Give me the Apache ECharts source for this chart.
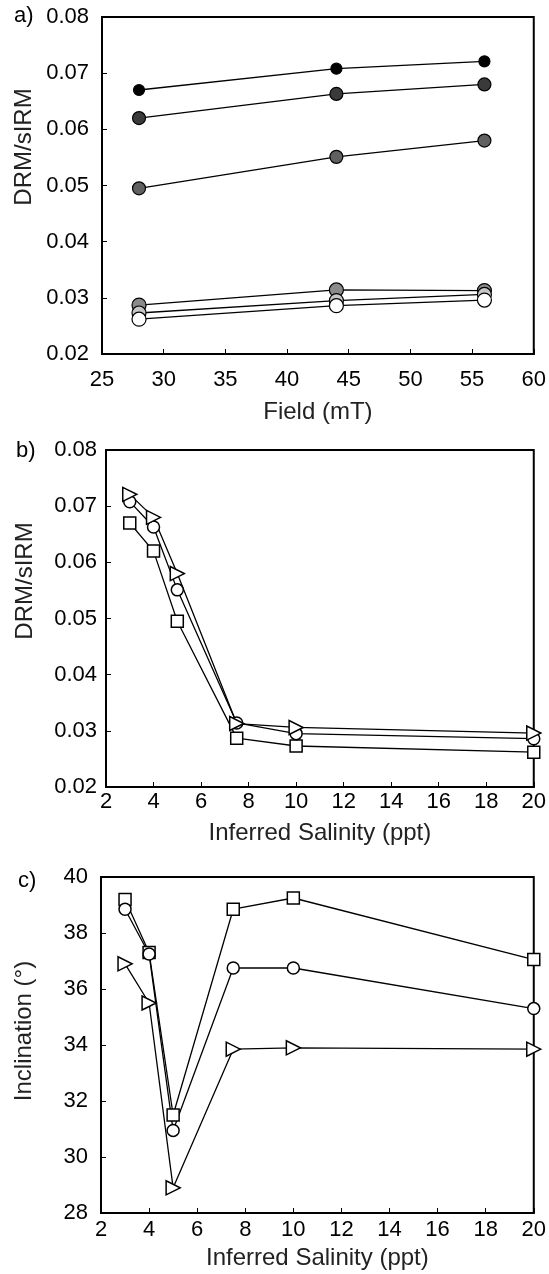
<!DOCTYPE html>
<html>
<head>
<meta charset="utf-8">
<script src="https://cdn.jsdelivr.net/npm/echarts@6/dist/echarts.min.js"></script>
<style>
html,body{margin:0;padding:0;background:#fff;}
#chart{width:549px;height:1274px;}
</style>
</head>
<body>
<div id="chart"></div>
<script>
// ---- data ----
const fields = [28, 44, 56];                 // mT (panel a x)
const salinity = [3, 4, 5, 7.5, 10, 20];     // ppt (panels b,c x)
// DRM/sIRM by salinity for each field
const drm28 = [0.0670, 0.0620, 0.0495, 0.0287, 0.0273, 0.0262];  // squares
const drm44 = [0.0708, 0.0663, 0.0551, 0.0314, 0.0295, 0.0286];  // circles
const drm56 = [0.0721, 0.0680, 0.0580, 0.0313, 0.0306, 0.0296];  // triangles
// Inclination by salinity
const inc28 = [39.2, 37.3, 31.5, 38.85, 39.25, 37.05];
const inc44 = [38.85, 37.25, 30.95, 36.75, 36.75, 35.3];
const inc56 = [36.9, 35.5, 28.9, 33.85, 33.9, 33.85];
// tick labels
const yTicksA = [0.02, 0.03, 0.04, 0.05, 0.06, 0.07, 0.08];
const xTicksA = [25, 30, 35, 40, 45, 50, 55, 60];
const xTicksS = [2, 4, 6, 8, 10, 12, 14, 16, 18, 20];
const yTicksC = [28, 30, 32, 34, 36, 38, 40];
const salColors = ['#000000', '#3a3a3a', '#606060', '#8a8a8a', '#c6c6c6', '#ffffff'];
const salSizes = [11, 13, 13, 14, 14, 14];

const FONT = 'Liberation Sans, Arial, sans-serif';
const grids = [
  {left: 102, top: 17, width: 432, height: 337},
  {left: 106, top: 450, width: 433, height: 337},
  {left: 101, top: 877, width: 433, height: 336}
];

function xAxis(gi, ticks, name, gap, margin) {
  return {
    type: 'value', gridIndex: gi, min: ticks[0], max: ticks[ticks.length - 1],
    interval: ticks[1] - ticks[0],
    name: name, nameLocation: 'middle', nameGap: gap,
    nameTextStyle: {fontSize: 24, color: '#222', fontFamily: FONT},
    axisLine: {show: true, lineStyle: {color: '#000', width: 2}},
    axisTick: {show: true, inside: true, length: 5, lineStyle: {color: '#000', width: 1}},
    axisLabel: {fontSize: 22, color: '#000', fontFamily: FONT, margin: margin},
    splitLine: {show: false}
  };
}
function yAxis(gi, ticks, dec, margin) {
  return {
    type: 'value', gridIndex: gi, min: ticks[0], max: ticks[ticks.length - 1],
    interval: +(ticks[1] - ticks[0]).toFixed(4),
    axisLine: {show: true, lineStyle: {color: '#000', width: 2}},
    axisTick: {show: true, inside: true, length: 5, lineStyle: {color: '#000', width: 1}},
    axisLabel: {fontSize: 22, color: '#000', fontFamily: FONT, margin: margin,
      formatter: v => Number(v).toFixed(dec)},
    splitLine: {show: false}
  };
}

const series = [];
// panel a: one series per salinity, x = field
salinity.forEach((s, i) => {
  series.push({
    type: 'line', xAxisIndex: 0, yAxisIndex: 0,
    data: fields.map((f, j) => [f, [drm28, drm44, drm56][j][i]]),
    symbol: 'circle', symbolSize: salSizes[i],
    lineStyle: {color: '#000', width: 1.3},
    itemStyle: {color: salColors[i], borderColor: '#000', borderWidth: 1.2},
    z: 2 + i, animation: false
  });
});
function salSeries(ax, vals, sym) {
  const s = {
    type: 'line', xAxisIndex: ax, yAxisIndex: ax,
    data: salinity.map((x, i) => [x, vals[i]]),
    symbol: sym, symbolSize: sym === 'triangle' ? 14 : 12,
    lineStyle: {color: '#000', width: 1.3},
    itemStyle: {color: '#fff', borderColor: '#000', borderWidth: 1.5},
    animation: false
  };
  if (sym === 'triangle') s.symbolRotate = -90;
  return s;
}
series.push(salSeries(1, drm28, 'rect'));
series.push(salSeries(1, drm44, 'circle'));
series.push(salSeries(1, drm56, 'triangle'));
series.push(salSeries(2, inc28, 'rect'));
series.push(salSeries(2, inc44, 'circle'));
series.push(salSeries(2, inc56, 'triangle'));

const chart = echarts.init(document.getElementById('chart'), null, {renderer: 'canvas'});
chart.setOption({
  animation: false,
  backgroundColor: '#fff',
  grid: grids.map(g => Object.assign({show: true, borderColor: '#000', borderWidth: 2, backgroundColor: 'transparent'}, g)),
  xAxis: [
    xAxis(0, xTicksA, 'Field (mT)', 46, 15),
    xAxis(1, xTicksS, 'Inferred Salinity (ppt)', 34, 4),
    xAxis(2, xTicksS, 'Inferred Salinity (ppt)', 33, 6)
  ],
  yAxis: [
    yAxis(0, yTicksA, 2, 13),
    yAxis(1, yTicksA, 2, 9),
    yAxis(2, yTicksC, 0, 13)
  ],
  graphic: [
    {type: 'text', left: 14, top: 5, style: {text: 'a)', font: '22px ' + FONT, fill: '#000'}},
    {type: 'text', left: 16, top: 440, style: {text: 'b)', font: '22px ' + FONT, fill: '#000'}},
    {type: 'text', left: 18, top: 870, style: {text: 'c)', font: '22px ' + FONT, fill: '#000'}},
    {type: 'text', x: 24, y: 147, rotation: Math.PI / 2,
     style: {text: 'DRM/sIRM', font: '24px ' + FONT, fill: '#222', align: 'center', verticalAlign: 'middle'}},
    {type: 'text', x: 25, y: 581, rotation: Math.PI / 2,
     style: {text: 'DRM/sIRM', font: '24px ' + FONT, fill: '#222', align: 'center', verticalAlign: 'middle'}},
    {type: 'text', x: 24, y: 1031, rotation: Math.PI / 2,
     style: {text: 'Inclination (°)', font: '24px ' + FONT, fill: '#222', align: 'center', verticalAlign: 'middle'}}
  ],
  series: series
});
</script>
</body>
</html>
